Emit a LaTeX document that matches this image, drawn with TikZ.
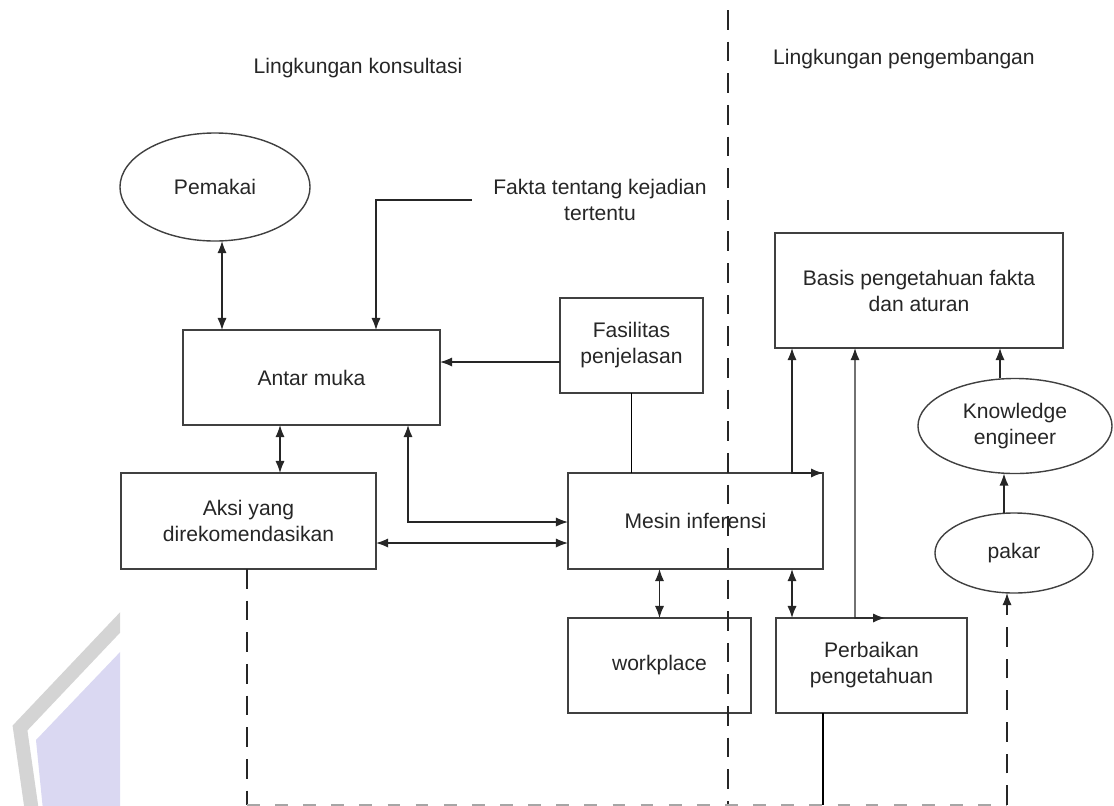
\documentclass[tikz,border=0pt]{standalone}
\usepackage{fontspec}
\setmainfont{Liberation Sans}
\usetikzlibrary{shapes.geometric,arrows.meta}
\definecolor{markgray}{RGB}{212,212,212}
\definecolor{marklav}{RGB}{218,216,242}
\tikzset{
  sistem/.style={
    x=0.025cm, y=-0.025cm,
    line width=1pt,
    every node/.style={font=\fontsize{15}{18.5}\selectfont, text=black!85, align=center},
    box/.style={
        draw=black!75,
        rectangle,
        inner sep=0pt,
        outer sep=0pt,
    },
    oval/.style={
        draw=black!75,
        ellipse,
        inner sep=0pt,
        outer sep=0pt,
    },
    arr/.style={draw=black!85, -{Latex[length=3mm,width=2.3mm]}},
    dbl/.style={draw=black!85, {Latex[length=3mm,width=2.3mm]}-{Latex[length=3mm,width=2.3mm]}},
    sepline/.style={draw=black!85, dash pattern=on 14pt off 8.5pt},
  }
}

\begin{document}
\begin{tikzpicture}[sistem]
    \useasboundingbox (0,0) rectangle (1114,805);
    % tanda air
    \begin{scope}
        \clip (0,560) rectangle (120,805);
        \fill[marklav] (122,650) -- (36,740) -- (43,810) -- (122,810) -- cycle;
        \draw[markgray, line width=10pt, line join=miter] (130,612) -- (20,728) -- (32,812);
    \end{scope}

    \node (konsul) at (358,68) {Lingkungan konsultasi};
    \node (kembang) at (904,59) {Lingkungan pengembangan};

    \node[oval, minimum width=4.75cm, minimum height=2.7cm] (pemakai) at (215,187) {Pemakai};
    \node[inner xsep=0.525cm] (fakta) at (600,200) {Fakta tentang kejadian\\tertentu};
    \node[box, minimum width=6.425cm, minimum height=2.375cm] (antar) at (311.5,377.5) {Antar muka};
    \node[box, minimum width=3.575cm, minimum height=2.375cm] (fasilitas) at (631.5,345.5) {Fasilitas\\penjelasan};
    \node[box, minimum width=6.375cm, minimum height=2.4cm] (aksi) at (248.5,521) {Aksi yang\\direkomendasikan};
    \node[box, minimum width=6.375cm, minimum height=2.4cm] (mesin) at (695.5,521) {Mesin inferensi};
    \node[box, minimum width=4.575cm, minimum height=2.375cm] (workplace) at (659.5,665.5) {workplace};
    \node[box, minimum width=4.775cm, minimum height=2.375cm] (perbaikan) at (871.5,665.5) {Perbaikan\\pengetahuan};
    \node[box, minimum width=7.2cm, minimum height=2.875cm] (basis) at (919,290.5) {Basis pengetahuan fakta\\dan aturan};
    \node[oval, minimum width=4.85cm, minimum height=2.375cm] (engineer) at (1015,426) {Knowledge\\engineer};
    \node[oval, minimum width=3.95cm, minimum height=2cm] (pakar) at (1014,553) {pakar};

    \coordinate (kolPemakai) at (222,0);
    \coordinate (kolFakta) at (376,0);
    \coordinate (kolAksi) at (280,0);
    \coordinate (kolBalik) at (408,0);
    \coordinate (kolBasis) at (792,0);
    \coordinate (kolPerbaikan) at (855,0);
    \coordinate (kolBawah) at (823,0);
    \coordinate (kolEngineer) at (1000,0);
    \coordinate (kolPakar) at (1004,0);
    \coordinate (kolDasar) at (1007,0);
    \coordinate (kolSekat) at (728,0);
    \coordinate (barisJelas) at (0,362);
    \coordinate (barisBalik) at (0,522);
    \coordinate (barisAksi) at (0,543);
    \coordinate (dasarKiri) at (247,805);
    \coordinate (dasarKanan) at (1007,805);
    \coordinate (ujungPerbaikan) at (885,618);

    % garis pemisah
    \draw[sepline] (kolSekat |- 0,10) -- (kolSekat |- dasarKiri);
    \draw[sepline] (aksi.south -| dasarKiri) -- (dasarKiri);
    \draw[draw=black!35, dash pattern=on 9pt off 11pt] (dasarKiri) -- (dasarKanan);

    \draw[dbl] (kolPemakai |- pemakai.south) -- (kolPemakai |- antar.north);
    \draw[arr] (fakta.west) -| (kolFakta |- antar.north);
    \draw[arr] (fasilitas.west |- barisJelas) -- (antar.east |- barisJelas);
    \draw (fasilitas.south) -- (fasilitas.south |- mesin.north);
    \draw[dbl] (kolAksi |- antar.south) -- (kolAksi |- aksi.north);
    \draw[dbl] (kolBalik |- antar.south) |- (mesin.west |- barisBalik);
    \draw[dbl] (aksi.east |- barisAksi) -- (mesin.west |- barisAksi);
    \draw[dbl] (workplace.north |- mesin.south) -- (workplace.north);
    \draw[dbl] (kolBasis |- mesin.south) -- (kolBasis |- perbaikan.north);
    \draw[dbl] (kolBasis |- basis.south) -- (kolBasis |- mesin.north) -- (mesin.north east);
    \draw[dbl] (kolPerbaikan |- basis.south) -- (kolPerbaikan |- perbaikan.north) -- (ujungPerbaikan);
    \draw (kolBawah |- perbaikan.south) -- (kolBawah |- dasarKiri);
    \draw[arr] (kolEngineer |- engineer.north) -- (kolEngineer |- basis.south);
    \draw[arr] (kolPakar |- pakar.north) -- (kolPakar |- engineer.south);
    \draw[arr, sepline] (dasarKanan) -- (kolDasar |- pakar.south);
\end{tikzpicture}
\end{document}
